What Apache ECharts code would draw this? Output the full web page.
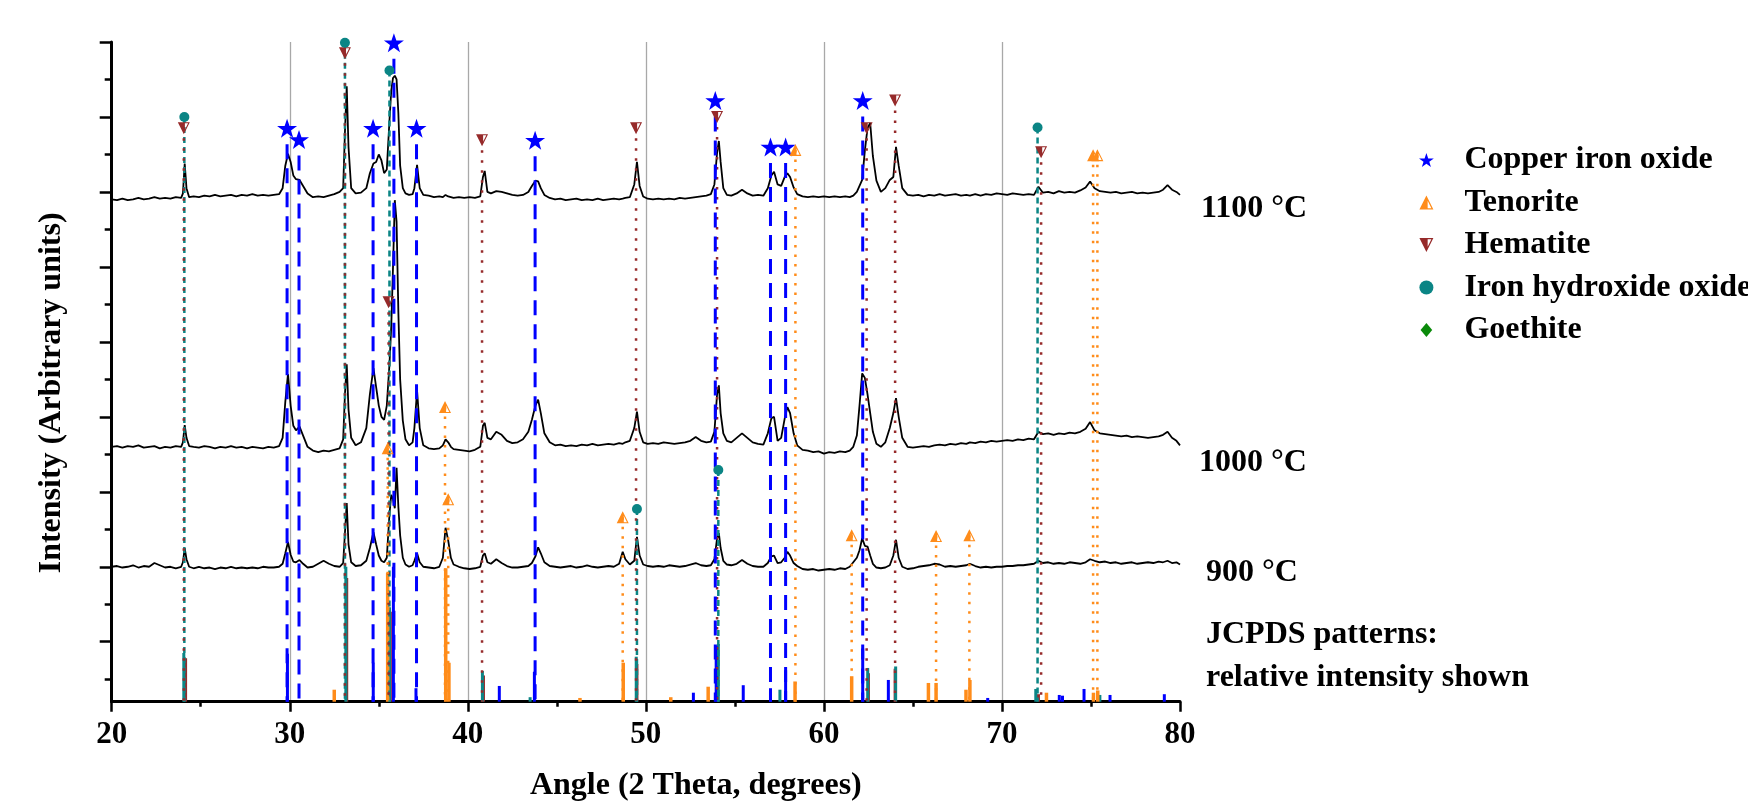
<!DOCTYPE html>
<html>
<head>
<meta charset="utf-8">
<script src="https://cdn.jsdelivr.net/npm/echarts@6/dist/echarts.min.js"></script>
<style>
html,body{margin:0;padding:0;background:#fff;}
#chart{width:1748px;height:801px;}
</style>
</head>
<body>
<div id="chart"></div>
<script>
// ---------------- DATA ----------------
const angles = [
  20.0, 20.3, 20.6, 20.9, 21.2, 21.5, 21.8, 22.1, 22.4, 22.7,
  23.0, 23.3, 23.6, 23.9, 24.0, 24.1, 24.2, 24.35, 24.6, 24.9,
  25.2, 25.5, 25.8, 26.1, 26.4, 26.7, 27.0, 27.3, 27.6, 27.9,
  28.2, 28.5, 28.8, 29.1, 29.4, 29.6, 29.75, 29.9, 30.05, 30.2,
  30.35, 30.55, 30.75, 31.0, 31.3, 31.6, 31.9, 32.2, 32.5, 32.8,
  33.0, 33.1, 33.2, 33.3, 33.45, 33.7, 34.0, 34.3, 34.5, 34.7,
  34.85, 35.0, 35.15, 35.3, 35.45, 35.6, 35.7, 35.8, 35.9, 36.0,
  36.1, 36.2, 36.35, 36.5, 36.7, 36.9, 37.0, 37.15, 37.3, 37.5,
  37.8, 38.1, 38.4, 38.6, 38.75, 38.9, 39.05, 39.2, 39.5, 39.8,
  40.1, 40.4, 40.7, 40.85, 40.95, 41.1, 41.3, 41.6, 41.9, 42.2,
  42.5, 42.8, 43.1, 43.4, 43.6, 43.8, 43.95, 44.1, 44.3, 44.6,
  44.9, 45.2, 45.5, 45.8, 46.1, 46.4, 46.7, 47.0, 47.3, 47.6,
  47.9, 48.2, 48.5, 48.7, 48.85, 49.1, 49.35, 49.5, 49.65, 49.85,
  50.1, 50.4, 50.7, 51.0, 51.3, 51.6, 51.9, 52.2, 52.5, 52.8,
  53.1, 53.4, 53.65, 53.85, 54.0, 54.1, 54.2, 54.35, 54.55, 54.8,
  55.1, 55.4, 55.7, 56.0, 56.3, 56.6, 56.85, 57.05, 57.2, 57.4,
  57.6, 57.8, 57.95, 58.1, 58.3, 58.5, 58.8, 59.1, 59.4, 59.7,
  60.0, 60.3, 60.6, 60.9, 61.2, 61.45, 61.65, 61.85, 62.0, 62.15,
  62.3, 62.45, 62.6, 62.75, 62.95, 63.2, 63.45, 63.7, 63.9, 64.05,
  64.2, 64.4, 64.7, 65.0, 65.3, 65.6, 65.9, 66.2, 66.5, 66.8,
  67.1, 67.4, 67.7, 68.0, 68.2, 68.5, 68.8, 69.1, 69.4, 69.7,
  70.0, 70.3, 70.6, 70.9, 71.2, 71.5, 71.8, 72.05, 72.3, 72.6,
  72.9, 73.2, 73.5, 73.8, 74.1, 74.4, 74.7, 74.95, 75.2, 75.5,
  75.8, 76.1, 76.4, 76.7, 77.0, 77.3, 77.6, 77.9, 78.2, 78.5,
  78.8, 79.05, 79.3, 79.55, 79.8, 80.0
];

const trace900 = [
  1.00, 1.01, 0.99, 1.00, 1.02, 0.99, 1.01, 1.00, 1.05, 1.02,
  0.99, 1.00, 0.98, 1.00, 1.06, 1.25, 1.10, 1.00, 0.98, 1.00,
  0.98, 0.99, 0.97, 0.99, 0.98, 1.00, 0.98, 0.99, 0.98, 0.99,
  0.98, 1.00, 0.99, 0.99, 1.00, 1.04, 1.18, 1.33, 1.16, 1.07,
  1.06, 1.09, 1.04, 0.99, 1.00, 1.04, 1.08, 1.04, 1.01, 1.00,
  1.05, 1.45, 1.85, 1.30, 1.06, 1.01, 1.02, 1.08, 1.25, 1.46,
  1.30, 1.15, 1.08, 1.06, 1.12, 1.70, 1.96, 1.90, 1.78, 2.32,
  1.80, 1.42, 1.12, 1.03, 1.00, 1.02, 1.08, 1.18, 1.06, 1.00,
  0.99, 0.98, 1.00, 1.12, 1.52, 1.35, 1.12, 1.03, 1.00, 0.98,
  0.97, 0.98, 1.00, 1.15, 1.18, 1.06, 1.04, 1.10, 1.05, 1.01,
  0.99, 0.99, 1.00, 1.01, 1.05, 1.14, 1.26, 1.18, 1.06, 1.01,
  1.00, 0.99, 1.00, 1.01, 0.99, 1.00, 1.02, 1.00, 0.99, 1.00,
  1.01, 1.00, 1.04, 1.20, 1.10, 1.03, 1.08, 1.40, 1.15, 1.03,
  1.01, 1.00, 1.01, 1.00, 1.02, 1.01, 1.00, 1.01, 1.03, 1.05,
  1.02, 1.01, 1.02, 1.10, 1.38, 1.45, 1.25, 1.08, 1.03, 1.02,
  1.04, 1.09, 1.04, 1.01, 1.00, 1.00, 1.05, 1.14, 1.15, 1.05,
  1.06, 1.12, 1.20, 1.15, 1.05, 1.01, 0.97, 0.96, 0.97, 0.95,
  0.96, 0.97, 0.96, 0.98, 0.97, 1.00, 1.06, 1.12, 1.22, 1.38,
  1.28, 1.27, 1.15, 1.04, 0.99, 0.98, 0.99, 1.02, 1.15, 1.36,
  1.12, 1.00, 0.97, 0.98, 1.00, 1.01, 1.02, 1.04, 1.03, 1.00,
  1.01, 1.00, 1.01, 1.02, 1.04, 1.01, 0.99, 1.00, 0.99, 1.00,
  1.00, 1.01, 1.01, 1.02, 1.02, 1.03, 1.04, 1.08, 1.05, 1.06,
  1.04, 1.05, 1.04, 1.06, 1.05, 1.04, 1.06, 1.10, 1.08, 1.06,
  1.07, 1.05, 1.06, 1.04, 1.05, 1.06, 1.04, 1.05, 1.06, 1.05,
  1.07, 1.06, 1.08, 1.05, 1.06, 1.03
];

const trace1000 = [
  2.60, 2.61, 2.59, 2.61, 2.60, 2.62, 2.59, 2.60, 2.61, 2.58,
  2.60, 2.59, 2.61, 2.60, 2.66, 2.89, 2.72, 2.61, 2.60, 2.59,
  2.61, 2.60, 2.58, 2.60, 2.59, 2.61, 2.59, 2.60, 2.58, 2.60,
  2.59, 2.58, 2.60, 2.59, 2.61, 2.72, 3.20, 3.57, 3.15, 2.88,
  2.82, 2.87, 2.75, 2.60, 2.55, 2.53, 2.55, 2.54, 2.56, 2.58,
  2.70, 3.30, 3.70, 3.10, 2.72, 2.62, 2.66, 2.85, 3.30, 3.65,
  3.40, 3.15, 3.00, 2.96, 3.15, 3.70, 4.20, 5.00, 5.89, 5.60,
  4.40, 3.50, 2.95, 2.70, 2.62, 2.66, 2.85, 3.35, 2.85, 2.62,
  2.58, 2.57, 2.58, 2.62, 2.70, 2.66, 2.60, 2.57, 2.56, 2.55,
  2.54, 2.56, 2.60, 2.88, 2.92, 2.72, 2.70, 2.80, 2.76, 2.68,
  2.65, 2.66, 2.70, 2.80, 2.96, 3.15, 3.23, 3.05, 2.78, 2.66,
  2.62, 2.63, 2.61, 2.62, 2.61, 2.63, 2.62, 2.64, 2.62, 2.63,
  2.64, 2.63, 2.65, 2.64, 2.66, 2.68, 2.85, 3.07, 2.80, 2.66,
  2.64, 2.65, 2.64, 2.66, 2.65, 2.64, 2.65, 2.66, 2.68, 2.73,
  2.68, 2.66, 2.67, 2.80, 3.30, 3.42, 3.05, 2.78, 2.68, 2.66,
  2.72, 2.78, 2.72, 2.66, 2.64, 2.63, 2.78, 2.98, 3.00, 2.68,
  2.72, 2.98, 3.13, 3.05, 2.78, 2.62, 2.56, 2.55, 2.53, 2.54,
  2.51, 2.53, 2.52, 2.54, 2.53, 2.55, 2.60, 2.75, 3.15, 3.58,
  3.52, 3.30, 3.05, 2.80, 2.64, 2.60, 2.66, 2.85, 3.05, 3.25,
  3.00, 2.72, 2.60, 2.59, 2.60, 2.61, 2.60, 2.62, 2.63, 2.62,
  2.64, 2.63, 2.65, 2.64, 2.66, 2.65, 2.67, 2.66, 2.68, 2.67,
  2.68, 2.69, 2.68, 2.70, 2.69, 2.71, 2.70, 2.80, 2.77, 2.78,
  2.76, 2.78, 2.77, 2.79, 2.78, 2.80, 2.84, 2.93, 2.82, 2.78,
  2.77, 2.76, 2.75, 2.74, 2.75, 2.73, 2.74, 2.73, 2.72, 2.73,
  2.74, 2.76, 2.80, 2.72, 2.68, 2.62
];

const trace1100 = [
  5.90, 5.89, 5.91, 5.89, 5.90, 5.92, 5.90, 5.91, 5.93, 5.91,
  5.92, 5.91, 5.93, 5.92, 5.98, 6.38, 6.05, 5.93, 5.94, 5.93,
  5.95, 5.94, 5.96, 5.94, 5.95, 5.96, 5.94, 5.96, 5.95, 5.97,
  5.95, 5.96, 5.95, 5.96, 5.97, 6.05, 6.35, 6.51, 6.40, 6.22,
  6.17, 6.16, 6.08, 5.98, 5.93, 5.94, 5.93, 5.95, 5.97, 6.00,
  6.05, 6.80, 7.41, 6.60, 6.05, 5.98, 5.99, 6.05, 6.25, 6.38,
  6.40, 6.50, 6.42, 6.25, 6.30, 6.95, 7.35, 7.52, 7.55, 7.50,
  7.05, 6.35, 6.05, 5.98, 5.96, 5.97, 6.05, 6.36, 6.05, 5.96,
  5.95, 5.93, 5.94, 5.93, 5.96, 5.94, 5.93, 5.92, 5.93, 5.92,
  5.93, 5.92, 5.94, 6.20, 6.28, 6.00, 5.98, 6.01, 6.00, 5.98,
  5.96, 5.95, 5.96, 6.00, 6.08, 6.15, 6.14, 6.05, 5.96, 5.92,
  5.90, 5.91, 5.89, 5.90, 5.91, 5.89, 5.90, 5.89, 5.91, 5.89,
  5.90, 5.91, 5.90, 5.91, 5.92, 5.93, 6.10, 6.40, 6.08, 5.94,
  5.91, 5.90, 5.91, 5.90, 5.91, 5.90, 5.92, 5.91, 5.92, 5.93,
  5.94, 5.95, 5.97, 6.10, 6.52, 6.68, 6.40, 6.05, 5.96, 5.95,
  5.98, 6.03, 5.98, 5.95, 5.96, 5.95, 6.05, 6.22, 6.27, 6.10,
  6.08, 6.20, 6.25, 6.20, 6.06, 5.97, 5.94, 5.93, 5.94, 5.93,
  5.94, 5.93, 5.94, 5.93, 5.94, 5.93, 5.95, 6.00, 6.08, 6.16,
  6.55, 6.85, 6.92, 6.48, 6.15, 6.00, 6.05, 6.16, 6.20, 6.60,
  6.35, 6.05, 5.96, 5.95, 5.96, 5.94, 5.96, 5.95, 5.97, 5.95,
  5.96, 5.97, 5.95, 5.96, 5.95, 5.97, 5.95, 5.97, 5.96, 5.98,
  5.97, 5.96, 5.98, 5.97, 5.96, 5.97, 5.96, 6.07, 5.99, 6.00,
  5.98, 6.01, 5.99, 6.00, 5.99, 6.02, 6.06, 6.14, 6.05, 6.01,
  6.00, 5.99, 6.00, 5.98, 5.99, 6.00, 5.98, 5.99, 5.98, 5.99,
  6.00, 6.03, 6.09, 6.03, 6.00, 5.96
];

// phase markers [angle, marker height]
const copperIronOxidePeaks = [[29.85,6.85],[30.52,6.70],[34.68,6.85],[35.85,7.99],[37.12,6.85],[43.78,6.69],[53.9,7.22],[57.0,6.60],[57.85,6.60],[62.18,7.22]];
const tenoritePeaks = [[35.5,2.58],[38.72,3.13],[38.9,1.90],[48.7,1.66],[58.4,6.56],[61.56,1.42],[66.3,1.41],[68.17,1.42],[75.12,6.49],[75.36,6.49]];
const hematitePeaks = [[24.05,6.85],[33.1,7.85],[35.55,4.53],[40.8,6.69],[49.45,6.85],[54.0,7.0],[62.4,6.85],[64.0,7.22],[72.2,6.53]];
const ironHydroxideOxidePeaks = [[24.08,7.0],[33.1,7.99],[35.6,7.62],[49.5,1.77],[54.07,2.29],[72.0,6.86]];
const goethitePeaks = [];

// JCPDS sticks [angle, top]
const copperIronOxideSticks = [[29.87,-0.16],[34.69,-0.28],[35.82,1.0],[37.09,-0.62],[41.77,-0.59],[43.74,-0.40],[52.67,-0.68],[53.95,-0.05],[55.47,-0.58],[57.0,-0.62],[57.85,-0.38],[62.18,-0.09],[63.62,-0.51],[69.2,-0.75],[73.22,-0.71],[73.4,-0.72],[74.61,-0.63],[76.07,-0.71],[79.12,-0.70]];
const tenoriteSticks = [[32.5,-0.64],[35.5,0.92],[38.76,0.98],[38.94,-0.28],[46.3,-0.75],[48.73,-0.28],[51.4,-0.74],[53.5,-0.60],[58.38,-0.53],[61.56,-0.46],[65.87,-0.55],[66.3,-0.55],[67.98,-0.64],[68.2,-0.51],[72.5,-0.68],[75.14,-0.68],[75.38,-0.65]];
const hematiteSticks = [[24.15,-0.22],[33.2,0.85],[35.65,0.40],[40.88,-0.45],[49.5,-0.30],[54.02,-0.10],[62.5,-0.42],[64.0,-0.36],[72.05,-0.70]];
const ironHydroxideOxideSticks = [[24.05,-0.15],[33.15,1.0],[35.6,0.46],[40.82,-0.39],[43.5,-0.74],[49.46,-0.2],[54.07,-0.03],[57.53,-0.64],[62.46,-0.35],[64.03,-0.33],[71.9,-0.63],[75.5,-0.71]];

const xTicks = [20, 30, 40, 50, 60, 70, 80];
const yMajorTicks = [0, 1, 2, 3, 4, 5, 6, 7, 8];
const yMinorTicks = [-0.5, 0.5, 1.5, 2.5, 3.5, 4.5, 5.5, 6.5, 7.5];
const sampleLabels = ['1100 °C', '1000 °C', '900 °C'];
const noteLabels = ['JCPDS patterns:', 'relative intensity shown'];

// ---------------- CHART ----------------
const Y_MIN = -0.8, Y_MAX = 8;
const FONT = '"Liberation Serif", "Times New Roman", serif';
const C_BLUE = '#0000ff', C_ORANGE = '#ff8c1a', C_RED = '#962a2a', C_TEAL = '#0b8585', C_GREEN = '#0a8a0a';

const STAR = 'path://M50,0L61.8,35.1L98.1,35.1L68.8,56.8L79.4,91L50,70L20.6,91L31.2,56.8L1.9,35.1L38.2,35.1Z';
const DOWN_HALF = 'path://M0,0L5,0L5,10Z M5,0L10,0L5,10Z M5.9,0.9L5.9,6.2L8.55,0.9Z';
const UP_HALF = 'path://M5,0L0,10L5,10Z M5,0L10,10L5,10Z M5.9,3.8L5.9,9.1L8.55,9.1Z';
const DIAMOND = 'path://M5,0L10,6L5,12L0,6Z';

function trace(name, vals) {
  return {
    name: name, type: 'line', data: angles.map((a, i) => [a, vals[i]]),
    showSymbol: false, symbol: 'none', z: 2, silent: true,
    lineStyle: { color: '#000', width: 1.8 }
  };
}
function refLines(data, color, dash, width, gap) {
  return {
    type: 'custom', data: data, z: 3, silent: true, encode: { x: 0, y: 1 },
    renderItem: function (p, api) {
      const t = api.coord([api.value(0), api.value(1)]);
      const b = api.coord([api.value(0), Y_MIN]);
      return { type: 'line', shape: { x1: t[0], y1: t[1] + gap, x2: b[0], y2: b[1] },
        style: { stroke: color, lineWidth: width, lineDash: dash, fill: null } };
    }
  };
}
function sticks(data, color, width) {
  return {
    type: 'custom', data: data, z: 2, silent: true, encode: { x: 0, y: 1 },
    renderItem: function (p, api) {
      const t = api.coord([api.value(0), api.value(1)]);
      const b = api.coord([api.value(0), Y_MIN]);
      return { type: 'line', shape: { x1: t[0], y1: t[1], x2: b[0], y2: b[1] },
        style: { stroke: color, lineWidth: width, fill: null } };
    }
  };
}
function markers(name, data, symbol, size, color) {
  return {
    name: name, type: 'scatter', data: data, symbol: symbol, symbolSize: size,
    symbolKeepAspect: true, z: 6, silent: true,
    itemStyle: { color: color, opacity: 1 }
  };
}

const chart = echarts.init(document.getElementById('chart'), null, { renderer: 'canvas' });
const labelY = [209, 463, 573];
const graphics = sampleLabels.map((t, i) => ({
  type: 'text', x: [1201, 1199, 1206][i], y: labelY[i],
  style: { text: t, fontFamily: FONT, fontWeight: 'bold', fontSize: 32, fill: '#000', verticalAlign: 'middle', align: 'left' }
})).concat(noteLabels.map((t, i) => ({
  type: 'text', x: 1206, y: [635, 678][i],
  style: { text: t, fontFamily: FONT, fontWeight: 'bold', fontSize: 32, fill: '#000', verticalAlign: 'middle', align: 'left' }
})));

chart.setOption({
  animation: false,
  backgroundColor: '#fff',
  grid: { left: 111.7, right: 568, top: 42, bottom: 99.3, containLabel: false, outerBoundsMode: 'none' },
  legend: {
    orient: 'vertical', left: 1414, top: 139, itemWidth: 66, itemHeight: 14, itemGap: 10.5,
    padding: 5, selectedMode: false,
    textStyle: { fontFamily: FONT, fontWeight: 'bold', fontSize: 32, lineHeight: 32, color: '#000' },
    data: ['Copper iron oxide', 'Tenorite', 'Hematite', 'Iron hydroxide oxide', 'Goethite']
  },
  xAxis: {
    type: 'value', min: 20, max: 80, interval: 10,
    name: 'Angle (2 Theta, degrees)', nameLocation: 'middle', nameGap: 68,
    nameTextStyle: { fontFamily: FONT, fontWeight: 'bold', fontSize: 32, color: '#000', padding: [0, 0, 0, 100] },
    axisLine: { show: true, onZero: false, lineStyle: { color: '#000', width: 3 } },
    axisTick: { show: true, length: 10, lineStyle: { color: '#000', width: 2.5 } },
    minorTick: { show: true, splitNumber: 2, length: 5, lineStyle: { color: '#000', width: 2.5 } },
    axisLabel: { show: true, margin: 18, fontFamily: FONT, fontWeight: 'bold', fontSize: 31, color: '#000',
      customValues: xTicks },
    splitLine: { show: true, showMinLine: false, showMaxLine: false, lineStyle: { color: '#a8a8a8', width: 1.3 } }
  },
  yAxis: [{
    type: 'value', min: Y_MIN, max: Y_MAX, position: 'left',
    name: 'Intensity (Arbitrary units)', nameLocation: 'middle', nameGap: 44, nameRotate: 90,
    nameTextStyle: { fontFamily: FONT, fontWeight: 'bold', fontSize: 32, color: '#000', padding: [0, 42, 0, 0] },
    axisLine: { show: true, onZero: false, lineStyle: { color: '#000', width: 3 } },
    axisTick: { show: true, length: 12, customValues: yMajorTicks, lineStyle: { color: '#000', width: 2.5 } },
    axisLabel: { show: false },
    splitLine: { show: false }
  }, {
    type: 'value', min: Y_MIN, max: Y_MAX, position: 'left',
    axisLine: { show: false },
    axisTick: { show: true, length: 7, customValues: yMinorTicks, lineStyle: { color: '#000', width: 2.5 } },
    axisLabel: { show: false },
    splitLine: { show: false }
  }],
  graphic: graphics,
  series: [
    sticks(hematiteSticks, C_RED, 3),
    sticks(ironHydroxideOxideSticks, C_TEAL, 3),
    sticks(copperIronOxideSticks, C_BLUE, 3),
    sticks(tenoriteSticks, C_ORANGE, 3.5),
    trace('900 °C', trace900),
    trace('1000 °C', trace1000),
    trace('1100 °C', trace1100),
    refLines(ironHydroxideOxidePeaks, C_TEAL, [6, 4], 2.5, 0),
    refLines(hematitePeaks, C_RED, [2.5, 7.5], 2.5, 0),
    refLines(tenoritePeaks, C_ORANGE, [2.5, 7], 2.5, 0),
    refLines(copperIronOxidePeaks, C_BLUE, [15, 9], 3, 16),
    markers('Copper iron oxide', copperIronOxidePeaks, STAR, 20, C_BLUE),
    markers('Tenorite', tenoritePeaks, UP_HALF, 12, C_ORANGE),
    markers('Hematite', hematitePeaks, DOWN_HALF, 12, C_RED),
    markers('Iron hydroxide oxide', ironHydroxideOxidePeaks, 'circle', 10, C_TEAL),
    markers('Goethite', goethitePeaks, DIAMOND, 12, C_GREEN)
  ]
});
</script>
</body>
</html>
